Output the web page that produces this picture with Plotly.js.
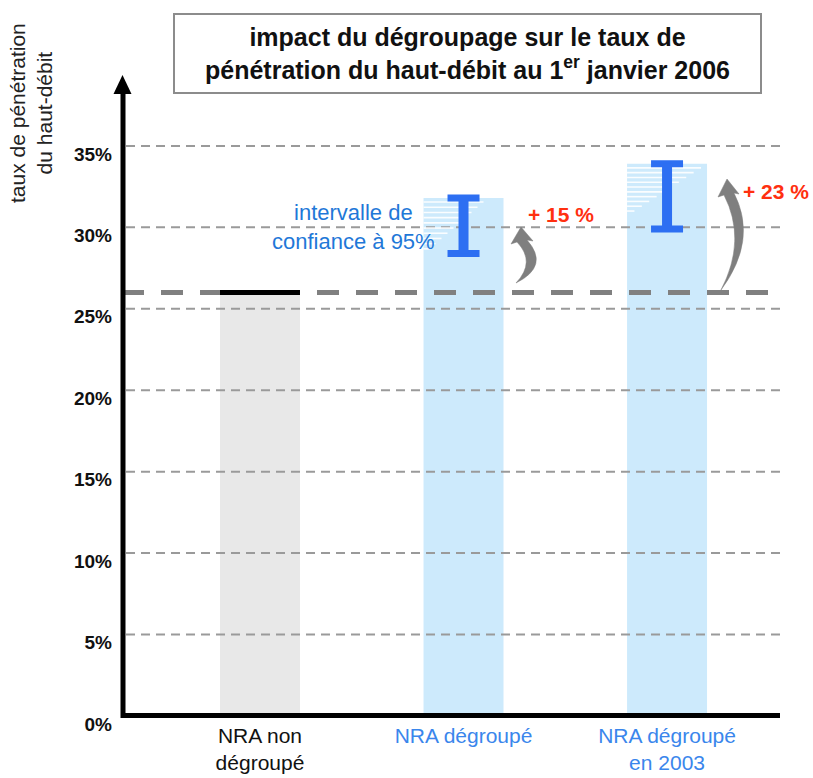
<!DOCTYPE html>
<html>
<head>
<meta charset="utf-8">
<script src="https://cdn.plot.ly/plotly-3.0.1.min.js"></script>
<style>html,body{margin:0;padding:0;background:#fff;}#chart{width:813px;height:778px;}</style>
</head>
<body>
<div id="chart"></div>
<script>
// ---- data ----
const categories = ['NRA non<br>dégroupé', 'NRA dégroupé', 'NRA dégroupé<br>en 2003'];
const categoryColors = ['#111111', '#3a86ec', '#3a86ec'];
const barValues = [26, 31.8, 33.9];          // bar heights (%)
const estimates = [26, 30.1, 31.9];          // point estimates (%)
const ciHalf = [0, 1.7, 2.0];                // half-width of 95% CI (%)
const gainLabels = ['', '+ 15 %', '+ 23 %'];
const yTicks = [0, 5, 10, 15, 20, 25, 30, 35];
const yTickText = ['0%', '5%', '10%', '15%', '20%', '25%', '30%', '35%'];
const refValue = 26;

// ---- geometry ----
const W = 813, H = 778;
const M = {l: 122, r: 33, t: 78, b: 62};
const PW = W - M.l - M.r, PH = H - M.t - M.b;
const xr = [-0.678, 2.555], yr = [0, 39.17];
const barW = 0.393;
const xIdx = categories.map((c, i) => i);
const toDX = px => xr[0] + (px - M.l) / PW * (xr[1] - xr[0]);
const toDY = py => yr[0] + (M.t + PH - py) / PH * (yr[1] - yr[0]);
const toPX = dxv => M.l + (dxv - xr[0]) / (xr[1] - xr[0]) * PW;
const toPY = dyv => M.t + PH - (dyv - yr[0]) / (yr[1] - yr[0]) * PH;
const pX = px => (px - M.l) / PW;
const pY = py => (M.t + PH - py) / PH;

const traces = [];
// bars
traces.push({
  type: 'bar', x: xIdx, y: barValues, width: barW,
  marker: {color: ['#e8e8e8', '#cdeafc', '#cdeafc'], line: {width: 0}},
  hoverinfo: 'skip', showlegend: false
});
// dashed gridlines (above bars)
{
  const gx = [], gy = [];
  yTicks.filter(v => v > 0).forEach(v => { gx.push(toDX(126), xr[1], null); gy.push(v, v, null); });
  traces.push({type: 'scatter', mode: 'lines', x: gx, y: gy, cliponaxis: false,
    line: {color: '#9a9a9a', width: 2, dash: '9px,6px'}, hoverinfo: 'skip', showlegend: false});
}
// white hatch stripes at top of the blue bars
{
  const sx = [], sy = [];
  [1, 2].forEach((i, k) => {
    const topPx = toPY(barValues[i]);
    const n = 10;
    const span = k === 0 ? 52 : 48;
    const maxLen = k === 0 ? 60 : 74;
    const left = toPX(i - barW / 2);
    for (let j = 0; j < n; j++) {
      const py = topPx + 4 + j * span / n;
      const len = maxLen * (1 - j / n);
      sx.push(toDX(left), toDX(left + len), null);
      sy.push(toDY(py), toDY(py), null);
    }
  });
  traces.push({type: 'scatter', mode: 'lines', x: sx, y: sy,
    line: {color: 'rgba(255,255,255,0.9)', width: 1.6}, hoverinfo: 'skip', showlegend: false});
}
// reference dashed line (non-unbundled level)
traces.push({type: 'scatter', mode: 'lines', x: [xr[0], xr[1]], y: [refValue, refValue], cliponaxis: false,
  line: {color: '#808080', width: 5, dash: '22px,17px'}, hoverinfo: 'skip', showlegend: false});
// black level mark on first bar
traces.push({type: 'scatter', mode: 'lines', x: [0 - barW / 2, 0 + barW / 2], y: [estimates[0], estimates[0]],
  line: {color: '#000', width: 5}, hoverinfo: 'skip', showlegend: false});
// confidence interval I-beams: caps + stem
traces.push({type: 'scatter', mode: 'markers', x: xIdx.slice(1), y: estimates.slice(1),
  marker: {size: 1, opacity: 0},
  error_y: {type: 'data', array: ciHalf.slice(1), visible: true, color: '#2d6ff2', thickness: 7, width: 16},
  hoverinfo: 'skip', showlegend: false});
traces.push({type: 'scatter', mode: 'markers', x: xIdx.slice(1), y: estimates.slice(1),
  marker: {size: 1, opacity: 0},
  error_y: {type: 'data', array: ciHalf.slice(1), visible: true, color: '#2d6ff2', thickness: 10, width: 0},
  hoverinfo: 'skip', showlegend: false});

// ---- shapes ----
const shapes = [];
// axes
shapes.push({type: 'line', xref: 'paper', yref: 'paper', x0: pX(123), x1: pX(123), y0: pY(718), y1: pY(92),
  line: {color: '#000', width: 5}});
shapes.push({type: 'line', xref: 'paper', yref: 'paper', x0: pX(121), x1: pX(780), y0: pY(715.5), y1: pY(715.5),
  line: {color: '#000', width: 5}});
shapes.push({type: 'path', xref: 'paper', yref: 'paper',
  path: `M ${pX(122.5)},${pY(75)} L ${pX(131.5)},${pY(94)} L ${pX(113.5)},${pY(94)} Z`,
  fillcolor: '#000', line: {width: 0}});
// curved grey arrows
function P(x, y) { return pX(x) + ',' + pY(y); }
shapes.push({type: 'path', xref: 'paper', yref: 'paper', layer: 'above',
  path: `M ${P(516,283)} Q ${P(550,266)} ${P(527,240)} L ${P(533,241)} L ${P(521,227)} L ${P(511,244)} L ${P(517,242)} Q ${P(536,262)} ${P(516,283)} Z`,
  fillcolor: '#7f7f7f', line: {color: '#7f7f7f', width: 0.5}});
shapes.push({type: 'path', xref: 'paper', yref: 'paper', layer: 'above',
  path: `M ${P(721,290)} Q ${P(758,240)} ${P(734,193)} L ${P(739,194)} L ${P(727,179)} L ${P(718,197)} L ${P(724,195)} Q ${P(747,240)} ${P(721,290)} Z`,
  fillcolor: '#7f7f7f', line: {color: '#7f7f7f', width: 0.5}});

// ---- annotations ----
const annotations = [];
annotations.push({
  xref: 'paper', yref: 'paper', x: pX(467.5), y: pY(53.5), xanchor: 'center', yanchor: 'middle',
  text: '<b>impact du dégroupage sur le taux de<br>pénétration du haut-débit au 1<sup>er</sup> janvier 2006</b>',
  showarrow: false, align: 'center', width: 585, height: 77, borderpad: 0,
  bordercolor: '#8c8c8c', borderwidth: 2, bgcolor: '#fff',
  font: {family: 'Liberation Sans, Arial, sans-serif', size: 25, color: '#111'}
});
annotations.push({
  xref: 'paper', yref: 'paper', x: pX(31), y: pY(113), xanchor: 'center', yanchor: 'middle',
  text: 'taux de pénétration<br>du haut-débit', textangle: -90, showarrow: false, align: 'center',
  font: {family: 'Liberation Sans, Arial, sans-serif', size: 21, color: '#222'}
});
annotations.push({
  xref: 'paper', yref: 'paper', x: pX(353), y: pY(227), xanchor: 'center', yanchor: 'middle',
  text: 'intervalle de<br>confiance à 95%', showarrow: false, align: 'center',
  font: {family: 'Liberation Sans, Arial, sans-serif', size: 22, color: '#1f78d8'}
});
[[1, 561, 215], [2, 776, 191]].forEach(([i, px, py]) => {
  annotations.push({
    xref: 'paper', yref: 'paper', x: pX(px), y: pY(py), xanchor: 'center', yanchor: 'middle',
    text: '<b>' + gainLabels[i] + '</b>', showarrow: false,
    font: {family: 'Liberation Sans, Arial, sans-serif', size: 21, color: '#ff3010'}
  });
});

const layout = {
  width: W, height: H, margin: M, paper_bgcolor: '#fff', plot_bgcolor: '#fff',
  showlegend: false, barmode: 'overlay',
  xaxis: {range: xr, tickvals: xIdx,
    ticktext: categories.map((c, i) => `<span style="color:${categoryColors[i]}">${c}</span>`),
    showgrid: false, zeroline: false, showline: false, ticks: '', ticklabelstandoff: 5,
    tickfont: {family: 'Liberation Sans, Arial, sans-serif', size: 21, color: '#111'}, fixedrange: true},
  yaxis: {range: yr, tickvals: yTicks, ticktext: yTickText, showgrid: false, zeroline: false,
    showline: false, ticks: '', ticklabelstandoff: 9, ticklabelshift: 8,
    tickfont: {family: 'Liberation Sans, Arial, sans-serif', size: 19, color: '#111', weight: 'bold'}, fixedrange: true},
  shapes: shapes, annotations: annotations
};

Plotly.newPlot('chart', traces, layout, {displayModeBar: false, staticPlot: true});
</script>
</body>
</html>
